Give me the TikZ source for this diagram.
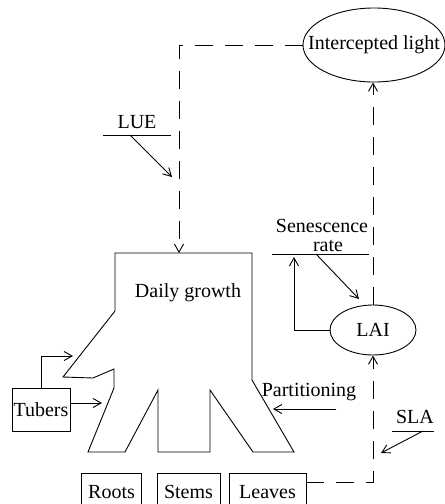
\documentclass[tikz,border=0pt]{standalone}
\usepackage{fontspec}
\setmainfont{Liberation Serif}
\usetikzlibrary{arrows.meta,shapes.geometric}
\begin{document}
\begin{tikzpicture}[x=1pt,y=-1pt,
  every node/.style={font=\fontsize{20}{20}\selectfont},
  line/.style={line width=0.9pt},
  tip/.style={-{Straight Barb[length=8pt,width=9pt,line width=0.9pt]}},
  arr/.style={line,tip},
  dsh/.style={line,dash pattern=on 18pt off 12pt},
  box/.style={draw,line width=0.9pt,inner sep=1pt,minimum height=38pt},
  oval/.style={draw,ellipse,line width=0.9pt,inner sep=0pt},
  lbl/.style={inner sep=0pt}]
\useasboundingbox (0,0) rectangle (445,504);

% main growth shape
\coordinate (A) at (115,253);
\coordinate (B) at (252,253);
\coordinate (C) at (252,380);
\coordinate (D) at (294,452);
\coordinate (E) at (253,452);
\coordinate (F) at (210,390);
\coordinate (G) at (210,452);
\coordinate (H) at (158,452);
\coordinate (I) at (158,390);
\coordinate (J) at (125,452);
\coordinate (K) at (88,452);
\coordinate (L) at (114,388);
\coordinate (M) at (114,369);
\coordinate (N) at (93,378);
\coordinate (O) at (63,377);
\coordinate (P) at (115,311);
\draw[line,line join=miter] (A) -- (B) -- (C) -- (D) -- (E) -- (F) -- (G) -- (H) -- (I) -- (J) -- (K) -- (L) -- (M) -- (N) -- (O) -- (P) -- cycle;
\node[lbl] (dg) at (188,293) {Daily growth};

% ovals
\node[oval,minimum width=142pt,minimum height=74pt,label={center:Intercepted light}] (IL) at (374,45) {};
\node[oval,minimum width=86pt,minimum height=50pt,label={center:LAI}] (LAI) at (373,330) {};

% boxes
\node[box,minimum width=60pt] (roots) at (111.5,492) {Roots};
\node[box,minimum width=63pt] (stems) at (188.5,492) {Stems};
\node[box,minimum width=77pt] (leaves) at (267.5,492) {Leaves};
\node[box,minimum width=58pt,minimum height=43pt,inner sep=0pt] (tubers) at (41,409.5) {Tubers};

% light to growth
\coordinate (topin) at (179,253);
\draw[dsh,tip] (IL.west) -| (topin);

% LUE
\node[lbl] (lue) at (137,122) {LUE};
\coordinate (lueL) at (103,135);
\coordinate (lueR) at (171,135);
\draw[line] (lueL) -- (lueR);
\coordinate (luefrom) at (130,135);
\coordinate (lueto) at (172,177);
\draw[arr] (luefrom) -- (lueto);

% senescence
\node[lbl,anchor=base] (sen1) at (322,232) {Senescence};
\node[lbl,anchor=base] (sen2) at (328,251) {rate};
\coordinate (senL) at (272,254);
\coordinate (senR) at (369,254);
\draw[line] (senL) -- (senR);
\coordinate (senfrom) at (316,254);
\coordinate (sento) at (359,299);
\draw[arr] (senfrom) -- (sento);
\coordinate (senup) at (294,257);
\draw[arr] (LAI.west) -| (senup);

% LAI to intercepted light
\draw[dsh,tip] (LAI.north) -- (LAI.north |- IL.south);

% leaves to LAI
\draw[dsh,tip] ([yshift=-10pt]leaves.north east) -| (LAI.south);

% SLA
\node[lbl] (sla) at (415,417) {SLA};
\coordinate (slaL) at (392,431);
\coordinate (slaR) at (434,431);
\draw[line] (slaL) -- (slaR);
\coordinate (slafrom) at (423,431);
\coordinate (slato) at (381,453);
\draw[arr] (slafrom) -- (slato);

% partitioning
\node[lbl] (part) at (309,392) {Partitioning};
\coordinate (partfrom) at (336,409);
\coordinate (partto) at (273,409);
\draw[arr] (partfrom) -- (partto);

% tubers
\coordinate (tubA) at (102,403);
\draw[arr] (tubers.east |- tubA) -- (tubA);
\coordinate (tubB) at (73,356);
\draw[arr] (tubers.north) |- (tubB);
\end{tikzpicture}
\end{document}
